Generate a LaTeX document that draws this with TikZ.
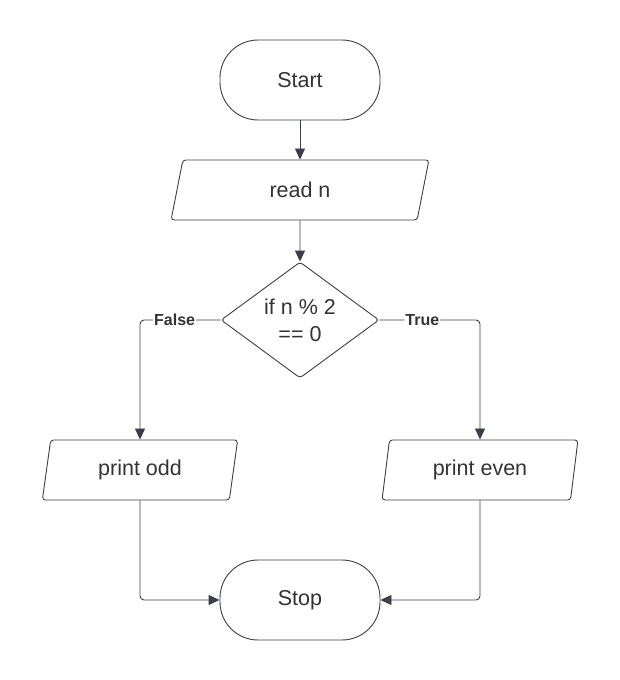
\documentclass[tikz,border=0pt]{standalone}
\usepackage{fontspec}
\setmainfont{Liberation Sans}
\usetikzlibrary{shapes.geometric,arrows.meta}
\definecolor{linegray}{HTML}{3A3F47}
\definecolor{textgray}{HTML}{333333}

\begin{document}
\begin{tikzpicture}[x=1pt,y=-1pt]
	\useasboundingbox (0,0) rectangle (620,680);
	\tikzstyle every node=[draw=linegray,line width=0.9pt,text=textgray,font=\fontsize{21.5}{27}\selectfont,align=center,inner sep=0pt]
	\tikzstyle term=[rectangle,rounded corners=38pt,minimum width=160pt,minimum height=80pt]
	\tikzstyle io=[trapezium,trapezium left angle=79,trapezium right angle=101,trapezium stretches=true,rounded corners=3pt,minimum height=60pt]
	\tikzstyle test=[diamond,aspect=1.36,rounded corners=3pt,minimum width=158pt,minimum height=116pt]
	\tikzstyle flow=[draw=linegray,line width=0.9pt,rounded corners=4pt,-{Triangle[length=11pt,width=10pt]}]
	\tikzstyle tag=[draw=none,fill=white,font=\fontsize{16}{19}\selectfont\bfseries,inner sep=1pt]

	\node[term] (start) at (300,80) {Start};
	\node[io,minimum width=258pt] (read) at (300,190) {read n};
	\node[test] (if) at (300,320) {if n \% 2\\== 0};
	\node[io,minimum width=196pt] (odd) at (140,470) {print odd};
	\node[io,minimum width=196pt] (even) at (480,470) {print even};
	\node[term] (stop) at (300,600) {Stop};

	\draw[flow] (start)--(read);
	\draw[flow] (read)--(if);
	\draw[flow] (if.west) -| node[tag,pos=0.285]{False} (odd.north);
	\draw[flow] (if.east) -| node[tag,pos=0.213]{True} (even.north);
	\draw[flow] (odd.south) |- (stop.west);
	\draw[flow] (even.south) |- (stop.east);
\end{tikzpicture}
\end{document}
